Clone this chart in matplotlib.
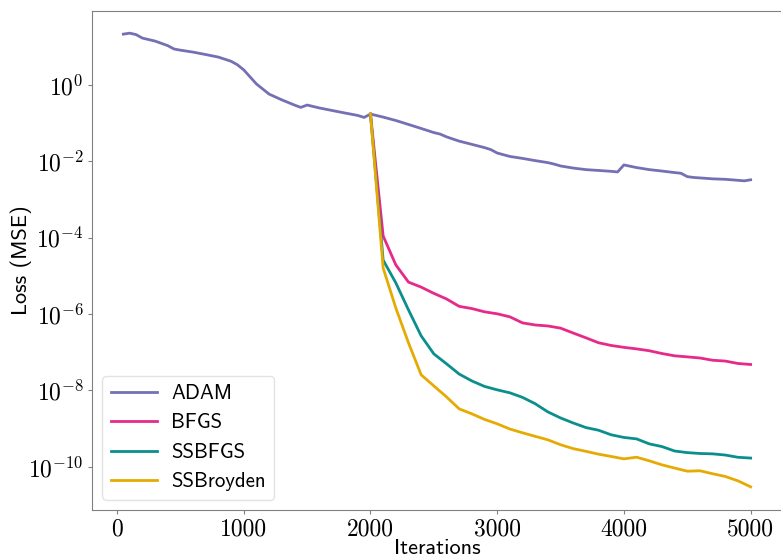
import math
import matplotlib
matplotlib.use("Agg")
import matplotlib.pyplot as plt
from matplotlib.ticker import FuncFormatter

plt.rcParams['mathtext.fontset'] = 'cm'

# ADAM run over the full training
adam_iters = [50, 100, 150, 200, 300, 400, 450, 500, 600, 700, 800, 900, 950, 1000,
              1100, 1200, 1300, 1400, 1450, 1500, 1600, 1700, 1800, 1900, 1950, 2000,
              2100, 2200, 2300, 2400, 2500, 2550, 2600, 2700, 2800, 2900, 2950, 3000,
              3100, 3200, 3300, 3400, 3450, 3500, 3600, 3700, 3800, 3900, 3950, 4000,
              4100, 4200, 4300, 4400, 4450, 4500, 4550, 4700, 4800, 4900, 4950, 5000]
adam_loss = [21.6, 22.9, 21.0, 17.0, 14.2, 10.8, 8.8, 8.2, 7.3, 6.3, 5.4, 4.2, 3.4, 2.5,
             1.07, 0.58, 0.41, 0.30, 0.26, 0.30, 0.25, 0.215, 0.185, 0.16, 0.142, 0.174,
             0.145, 0.118, 0.093, 0.073, 0.057, 0.052, 0.044, 0.034, 0.028, 0.023, 0.0204, 0.0166,
             0.0135, 0.012, 0.0105, 0.0093, 0.0085, 0.0076, 0.0067, 0.0061, 0.0058, 0.0055, 0.0053, 0.0081,
             0.0069, 0.0061, 0.0056, 0.0051, 0.0049, 0.0040, 0.0038, 0.0035, 0.0034, 0.0032, 0.0031, 0.0033]

# quasi-Newton runs, started from the ADAM weights at iteration 2000
qn_iters = list(range(2000, 5001, 100))
bfgs_loss = [0.174, 1.12e-4, 1.95e-5, 6.9e-6, 5.1e-6, 3.5e-6, 2.5e-6, 1.6e-6, 1.4e-6, 1.15e-6,
             1.02e-6, 8.5e-7, 5.9e-7, 5.2e-7, 4.9e-7, 4.3e-7, 3.2e-7, 2.4e-7, 1.78e-7, 1.51e-7,
             1.35e-7, 1.23e-7, 1.10e-7, 9.3e-8, 8.1e-8, 7.6e-8, 7.1e-8, 6.2e-8, 5.9e-8, 5.1e-8,
             4.8e-8]
ssbfgs_loss = [0.174, 2.6e-5, 6.6e-6, 1.29e-6, 2.7e-7, 9.1e-8, 5.0e-8, 2.7e-8, 1.78e-8, 1.28e-8,
               1.04e-8, 8.7e-9, 6.6e-9, 4.5e-9, 2.75e-9, 1.91e-9, 1.41e-9, 1.07e-9, 9.1e-10, 6.9e-10,
               5.9e-10, 5.4e-10, 4.0e-10, 3.4e-10, 2.6e-10, 2.36e-10, 2.24e-10, 2.19e-10, 2.04e-10, 1.78e-10,
               1.70e-10]
ssbroyden_loss = [0.174, 1.62e-5, 1.45e-6, 1.77e-7, 2.57e-8, 1.32e-8, 6.8e-9, 3.3e-9, 2.45e-9, 1.75e-9,
                  1.34e-9, 9.8e-10, 7.8e-10, 6.3e-10, 5.1e-10, 3.8e-10, 3.0e-10, 2.55e-10, 2.15e-10, 1.87e-10,
                  1.62e-10, 1.79e-10, 1.44e-10, 1.13e-10, 9.3e-11, 7.7e-11, 7.9e-11, 6.6e-11, 5.6e-11, 4.3e-11,
                  3.0e-11]

fig = plt.figure(figsize=(7.81, 5.57), dpi=100)
ax = fig.add_axes([92 / 781, 1 - 510 / 557, 690 / 781, 499 / 557])

ax.plot(adam_iters, adam_loss, color='#7570b3', lw=2.0, label='ADAM')
ax.plot(qn_iters, bfgs_loss, color='#e7298a', lw=2.0, label='BFGS')
ax.plot(qn_iters, ssbfgs_loss, color='#0b8f8c', lw=2.0, label='SSBFGS')
ax.plot(qn_iters, ssbroyden_loss, color='#e6ab02', lw=2.0, label='SSBroyden')

ax.set_yscale('log')
ax.set_ylim(10 ** -11.13, 10 ** 1.94)
ax.set_xlim(-197.5, 5247.5)
ax.set_xticks([0, 1000, 2000, 3000, 4000, 5000])
ax.set_yticks([1e0, 1e-2, 1e-4, 1e-6, 1e-8, 1e-10])
ax.minorticks_off()
ax.yaxis.set_major_formatter(FuncFormatter(lambda v, p: r'$10^{%d}$' % round(math.log10(v))))

for s in ax.spines.values():
    s.set_color('#808080')
ax.tick_params(length=3, color='#808080', labelsize=17, pad=3)
for lab in ax.get_xticklabels():
    lab.set_fontfamily('cmr10')

ax.set_xlabel('Iterations', fontfamily='cmss10', fontsize=16, labelpad=-1)
ax.set_ylabel('Loss (MSE)', fontfamily='cmss10', fontsize=16)
ax.yaxis.set_label_coords(-0.087, 0.5)

leg = ax.legend(loc='lower left', prop={'family': 'cmss10', 'size': 15},
                handlelength=2.2, handletextpad=0.7,
                fancybox=True, framealpha=0.8, edgecolor='#dddddd')

fig.savefig('out.png', dpi=100)
